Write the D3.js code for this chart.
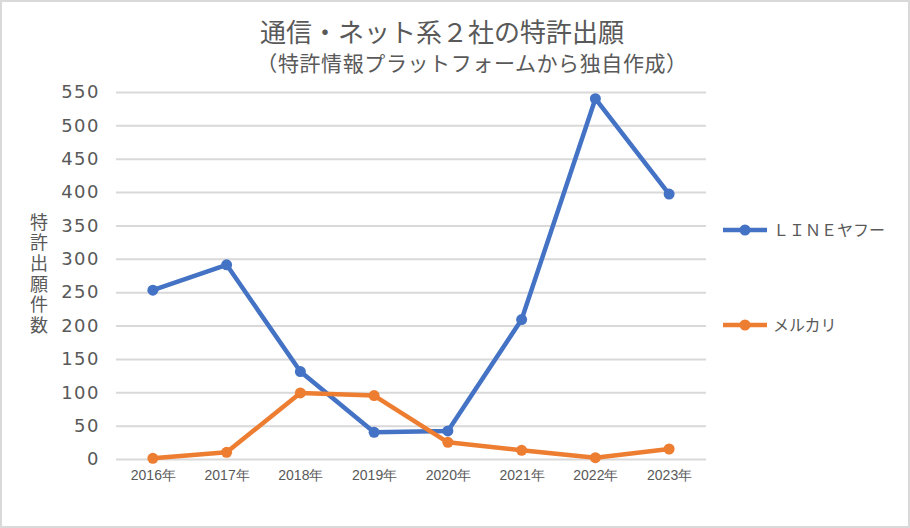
<!DOCTYPE html>
<html>
<head>
<meta charset="utf-8">
<script src="https://cdn.jsdelivr.net/npm/d3@7"></script>
<style>
  body { margin: 0; background: #fff; }
  svg { display: block; font-family: "Noto Sans CJK JP", sans-serif; }
</style>
</head>
<body>
<svg id="chart"></svg>
<script>
const years = ["2016年", "2017年", "2018年", "2019年", "2020年", "2021年", "2022年", "2023年"];
const lineYahoo = [253, 291, 131, 40, 42, 209, 540, 397];
const mercari = [1, 10, 99, 95, 25, 13, 2, 15];
const seriesNames = ["ＬＩＮＥヤフー", "メルカリ"];
const seriesColors = ["#4472C4", "#ED7D31"];
const yTicks = [0, 50, 100, 150, 200, 250, 300, 350, 400, 450, 500, 550];
const title = "通信・ネット系２社の特許出願";
const subtitle = "（特許情報プラットフォームから独自作成）";
const yTitle = "特許出願件数";

const W = 910, H = 528;
const margin = {top: 92, right: 204, bottom: 69, left: 116};

const svg = d3.select("#chart").attr("width", W).attr("height", H);

// outer border of the chart area
svg.append("rect")
    .attr("x", 1).attr("y", 1)
    .attr("width", W - 2).attr("height", H - 2)
    .attr("fill", "#fff")
    .attr("stroke", "#d9d9d9")
    .attr("stroke-width", 2);

const xScale = d3.scalePoint()
    .domain(years)
    .range([margin.left, W - margin.right])
    .padding(0.5);

const yScale = d3.scaleLinear()
    .domain([0, 550])
    .range([H - margin.bottom, margin.top]);

// gridlines + y labels
const yAxis = d3.axisLeft(yScale)
    .tickValues(yTicks)
    .tickSize(-(W - margin.right - margin.left))
    .tickPadding(16);

svg.append("g")
    .attr("transform", `translate(${margin.left},0)`)
    .call(yAxis)
    .call(g => g.select(".domain").remove())
    .call(g => g.selectAll(".tick line").attr("stroke", "#d9d9d9").attr("stroke-width", 2))
    .call(g => g.selectAll(".tick text")
        .attr("fill", "#595959")
        .attr("font-family", "'DejaVu Sans', sans-serif")
        .attr("font-size", 18)
        .attr("letter-spacing", 1.5));

const xAxis = d3.axisBottom(xScale)
    .tickSize(0)
    .tickPadding(11);

svg.append("g")
    .attr("transform", `translate(0,${H - margin.bottom})`)
    .call(xAxis)
    .call(g => g.select(".domain").remove())
    .call(g => g.selectAll(".tick text")
        .attr("fill", "#595959")
        .attr("font-size", 14));

// lines
const line = d3.line()
    .x((d, i) => xScale(years[i]))
    .y(d => yScale(d));

[lineYahoo, mercari].forEach((vals, k) => {
    svg.append("path")
        .datum(vals)
        .attr("fill", "none")
        .attr("stroke", seriesColors[k])
        .attr("stroke-width", 4.5)
        .attr("stroke-linejoin", "round")
        .attr("d", line);

    svg.selectAll(".pt" + k)
        .data(vals)
        .join("circle")
        .attr("class", "pt" + k)
        .attr("cx", (d, i) => xScale(years[i]))
        .attr("cy", d => yScale(d))
        .attr("r", 5.5)
        .attr("fill", seriesColors[k]);
});

// legend
const legendY = [230, 325];
seriesNames.forEach((name, k) => {
    const g = svg.append("g").attr("transform", `translate(723,${legendY[k]})`);
    g.append("line")
        .attr("x1", 0).attr("x2", 44)
        .attr("stroke", seriesColors[k])
        .attr("stroke-width", 4.5);
    g.append("circle")
        .attr("cx", 22).attr("r", 5.5)
        .attr("fill", seriesColors[k]);
    g.append("text")
        .attr("x", 50).attr("y", 6)
        .attr("fill", "#595959")
        .attr("font-size", 16)
        .text(name);
});

// titles
svg.append("text")
    .attr("x", 442).attr("y", 42)
    .attr("text-anchor", "middle")
    .attr("fill", "#595959")
    .attr("font-size", 26)
    .text(title);

svg.append("text")
    .attr("x", 472).attr("y", 71)
    .attr("text-anchor", "middle")
    .attr("fill", "#595959")
    .attr("font-size", 21)
    .attr("letter-spacing", 0.6)
    .text(subtitle);

// vertical y title
svg.append("text")
    .attr("x", 39).attr("y", 213)
    .attr("fill", "#595959")
    .attr("font-size", 18)
    .attr("letter-spacing", 2.6)
    .style("writing-mode", "vertical-rl")
    .text(yTitle);
</script>
</body>
</html>
